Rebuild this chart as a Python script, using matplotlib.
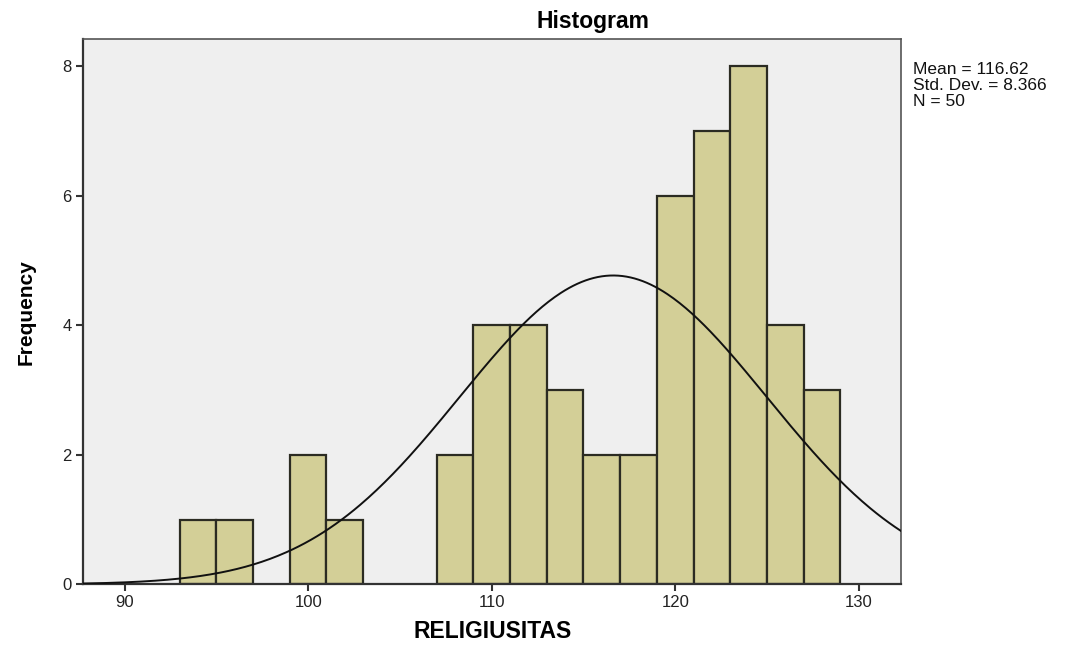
import numpy as np
from matplotlib import pyplot as plt

plt.rcParams['font.family'] = ['Liberation Sans', 'DejaVu Sans']

# histogram bins (left edges, width 2) and counts
bin_left = [93, 95, 99, 101, 107, 109, 111, 113, 115, 117, 119, 121, 123, 125, 127]
counts = [1, 1, 2, 1, 2, 4, 4, 3, 2, 2, 6, 7, 8, 4, 3]
bin_width = 2
mean = 116.62
std = 8.366
n = 50

fig = plt.figure(figsize=(10.81, 6.46), dpi=100)
ax = fig.add_axes([0.0772, 0.0955, 0.7563, 0.8441])
ax.set_facecolor('#efefef')

ax.bar(bin_left, counts, width=bin_width, align='edge',
       color='#d3cf97', edgecolor='#2b2b22', linewidth=1.6, zorder=2)

# normal curve scaled to counts
xs = np.linspace(87.76, 132.3, 400)
ys = n * bin_width / (std * np.sqrt(2 * np.pi)) * np.exp(-0.5 * ((xs - mean) / std) ** 2)
ax.plot(xs, ys, color='#111111', linewidth=1.4, zorder=3)

ax.set_xlim(87.76, 132.3)
ax.set_ylim(0, 8.42)
ax.set_xticks([90, 100, 110, 120, 130])
ax.set_yticks([0, 2, 4, 6, 8])
ax.tick_params(axis='both', direction='out', length=5, width=1.5, color='#333333',
               labelsize=12, labelcolor='#222222')
ax.tick_params(axis='x', pad=3)
for side in ['top', 'right']:
    ax.spines[side].set_color('#555555')
    ax.spines[side].set_linewidth(1.2)
for side in ['left', 'bottom']:
    ax.spines[side].set_color('#333333')
    ax.spines[side].set_linewidth(1.6)

fig.text(0.5486, 0.9567, 'Histogram', fontsize=16.5, fontweight='bold',
         ha='center', va='baseline')
ax.set_xlabel('RELIGIUSITAS', fontsize=16.5, fontweight='bold', labelpad=7)
ax.set_ylabel('Frequency', fontsize=15, fontweight='bold')
ax.yaxis.set_label_coords(-0.0585, 0.5)

fig.text(0.8445, 0.904, 'Mean = 116.62\nStd. Dev. = 8.366\nN = 50',
         fontsize=12.5, va='top', ha='left', linespacing=1.08, color='#111111')

fig.savefig('out.png', dpi=100)
